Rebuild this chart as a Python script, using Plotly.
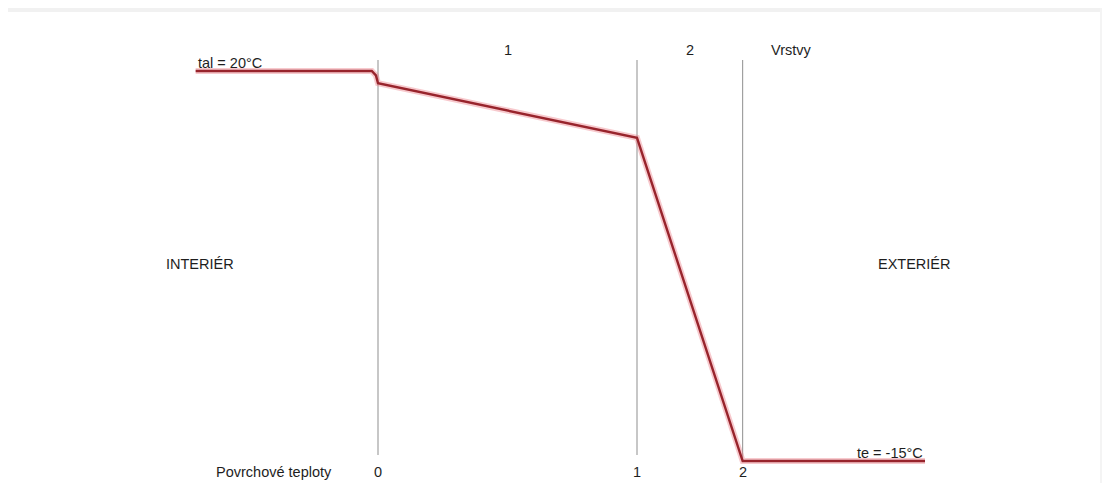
import plotly.graph_objects as go

# ---- data ----
# positions across the wall (cm), 0 = interior surface
profile_x = [-17.6, -0.6, -0.2, 0.0, 25.0, 35.2, 52.8]
# temperature profile (°C)
profile_t = [20.0, 20.0, 19.6, 18.9, 14.0, -15.0, -15.0]

boundary_x = [0.0, 25.0, 35.2]
boundary_labels = ["0", "1", "2"]
layer_labels = ["1", "2"]
t_ai = 20
t_e = -15

OFF = 8  # page body margin
W, H = 1110 - OFF, 483 - OFF
px_per_x = 10.36
px_per_t = 11.143
x0_px = 378 - OFF
t_ref_px = 71 - OFF  # pixel of 20 °C

x_range = [-x0_px / px_per_x, (W - x0_px) / px_per_x]
y_range = [20 - (H - t_ref_px) / px_per_t, 20 + t_ref_px / px_per_t]

def tpx(ypx):
    return 20 - (ypx - OFF - t_ref_px) / px_per_t

def xpx(xp):
    return (xp - OFF - x0_px) / px_per_x

fig = go.Figure()

# vertical boundary lines
for i, bx in enumerate(boundary_x):
    bottom = tpx(455) if i < 2 else profile_t[5]
    fig.add_trace(go.Scatter(x=[bx, bx], y=[tpx(60), bottom], mode="lines",
                             line=dict(color="#8f8f8f", width=1), hoverinfo="skip",
                             showlegend=False))

# halo under red line
fig.add_trace(go.Scatter(x=profile_x, y=profile_t, mode="lines",
                         line=dict(color="rgba(235,120,130,0.4)", width=6),
                         hoverinfo="skip", showlegend=False))
fig.add_trace(go.Scatter(x=profile_x, y=profile_t, mode="lines",
                         line=dict(color="#98242c", width=2.4),
                         showlegend=False))

font = dict(family="Liberation Sans, Arial, sans-serif", size=14.5, color="#1e1e1e")

ann = []
ann.append(dict(x=profile_x[0], y=tpx(63), text=f"tal = {t_ai}°C", xanchor="left"))
ann.append(dict(x=profile_x[-1], y=tpx(453), text=f"te = {t_e}°C", xanchor="right"))
for i, lab in enumerate(layer_labels):
    mid = (boundary_x[i] + boundary_x[i + 1]) / 2
    ann.append(dict(x=mid, y=tpx(50), text=lab, xanchor="center"))
ann.append(dict(x=xpx(769), y=tpx(50), text="Vrstvy", xanchor="left"))
ann.append(dict(x=xpx(164), y=tpx(264), text="INTERIÉR", xanchor="left"))
ann.append(dict(x=xpx(876), y=tpx(264), text="EXTERIÉR", xanchor="left"))
ann.append(dict(x=xpx(334), y=tpx(472), text="Povrchové teploty", xanchor="right"))
for bx, lab in zip(boundary_x, boundary_labels):
    ann.append(dict(x=bx, y=tpx(472), text=lab, xanchor="center"))
for a in ann:
    a.update(showarrow=False, yanchor="middle", font=font)

shapes = [
    dict(type="rect", xref="paper", yref="paper", x0=0, x1=1, y0=1 - 4 / H, y1=1,
         fillcolor="#f1f1f1", line=dict(width=0), layer="below"),
    dict(type="rect", xref="paper", yref="paper", x0=(1100 - OFF) / W, x1=1, y0=0, y1=1,
         fillcolor="#f4f4f4", line=dict(width=0), layer="below"),
]

fig.update_layout(
    width=W, height=H,
    margin=dict(l=0, r=0, t=0, b=0),
    paper_bgcolor="white", plot_bgcolor="rgba(0,0,0,0)",
    xaxis=dict(range=x_range, visible=False, fixedrange=True),
    yaxis=dict(range=y_range, visible=False, fixedrange=True),
    annotations=ann, shapes=shapes, showlegend=False,
)

fig.write_html("out.html")
